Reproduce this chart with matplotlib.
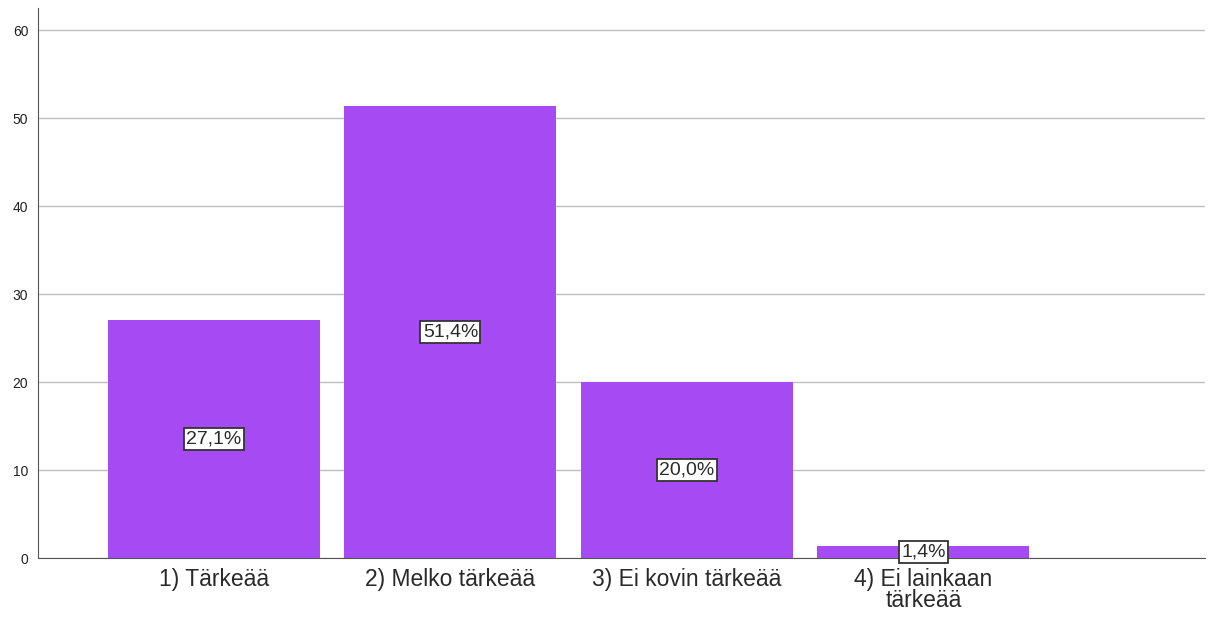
import numpy as np
import matplotlib
matplotlib.use("Agg")
import matplotlib.pyplot as plt

categories = ["1) Tärkeää", "2) Melko tärkeää", "3) Ei kovin tärkeää", "4) Ei lainkaan\ntärkeää"]
percent = [27.1, 51.4, 20.0, 1.4]
labels = ["27,1%", "51,4%", "20,0%", "1,4%"]
yticks = [0, 10, 20, 30, 40, 50, 60]

plt.rcParams["font.family"] = ["Liberation Sans", "DejaVu Sans"]

fig = plt.figure(figsize=(12.18, 6.19), dpi=100)
ax = fig.add_axes([0.0312, 0.0985, 0.958, 0.8885])

x = np.arange(len(categories))
ax.bar(x, percent, width=0.896, color="#a64af3", zorder=3)
for xi, v, lab in zip(x, percent, labels):
    ax.text(xi, v / 2, lab, ha="center", va="center", fontsize=14, color="#2a2a2a",
            bbox=dict(boxstyle="square,pad=0.12", fc="white", ec="#333333", lw=1.3), zorder=4)

ax.set_xlim(-0.744, 4.19)
ax.set_ylim(0, 62.5)
ax.set_yticks(yticks)
ax.set_xticks(x)
ax.set_xticklabels(categories, fontsize=16.5, color="#2a2a2a", linespacing=0.88)
ax.tick_params(axis="y", length=0, labelsize=10, pad=7, labelcolor="#222222")
ax.tick_params(axis="x", length=0, pad=7)
ax.grid(axis="y", color="#c0c0c0", lw=1, zorder=0)
for s in ["top", "right"]:
    ax.spines[s].set_visible(False)
ax.spines["left"].set_color("#555555")
ax.spines["bottom"].set_color("#555555")

fig.savefig("out.png", dpi=100)
